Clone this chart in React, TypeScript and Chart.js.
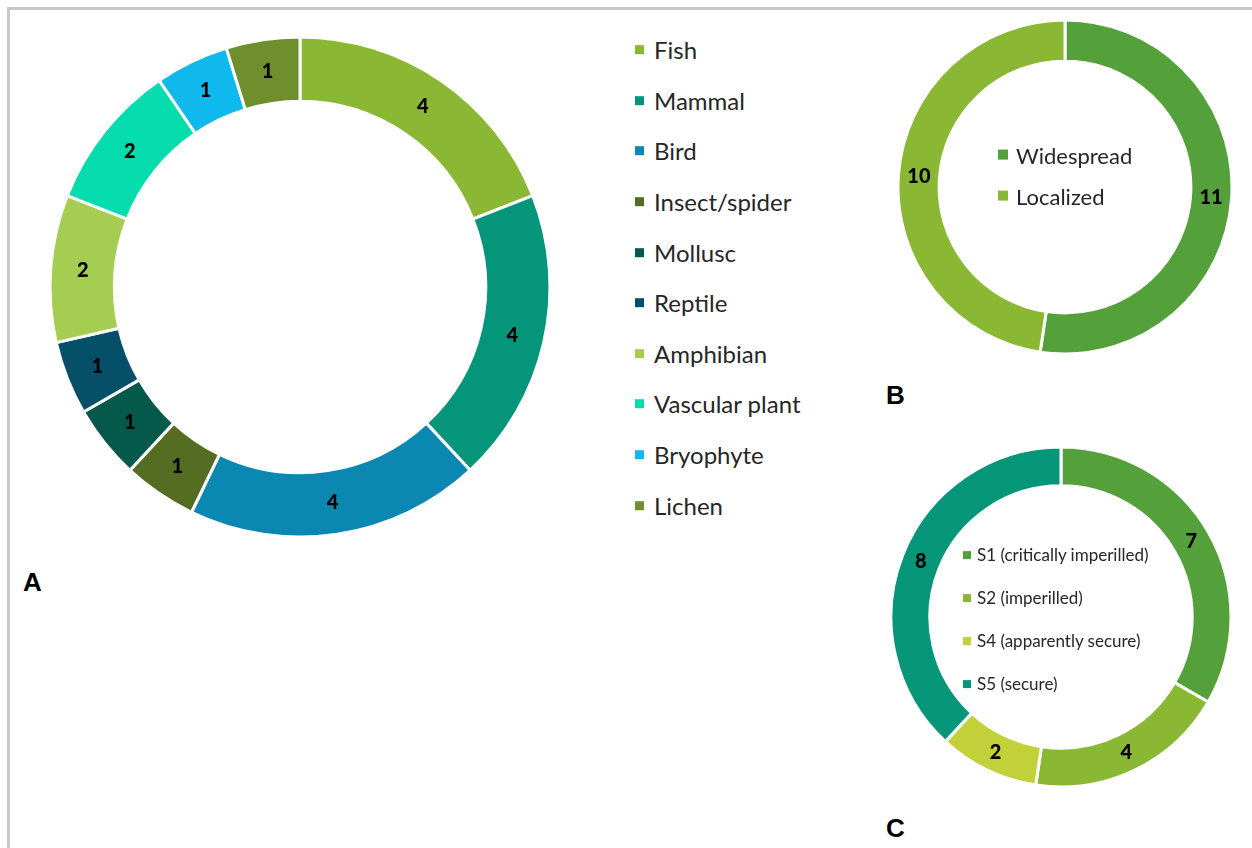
import React, { useEffect, useRef } from "react";
import { Chart, registerables } from "chart.js";

Chart.register(...registerables);

const taxaLabels = ["Fish", "Mammal", "Bird", "Insect/spider", "Mollusc", "Reptile", "Amphibian", "Vascular plant", "Bryophyte", "Lichen"];
const taxaValues = [4, 4, 4, 1, 1, 1, 2, 2, 1, 1];
const taxaColors = ["#8ab734", "#05957a", "#0b88b2", "#546d22", "#04594a", "#064f69", "#a5cd52", "#04dcae", "#0fb9ee", "#6e8f2c"];

const rangeLabels = ["Widespread", "Localized"];
const rangeValues = [11, 10];
const rangeColors = ["#54a03a", "#8ab734"];

const rankLabels = ["S1 (critically imperilled)", "S2 (imperilled)", "S4 (apparently secure)", "S5 (secure)"];
const rankValues = [7, 4, 2, 8];
const rankColors = ["#54a03a", "#8ab734", "#c2d13a", "#05967a"];

const FONT = "Lato, 'Open Sans', sans-serif";

const valueLabelPlugin = {
  id: "valueLabels",
  afterDatasetsDraw(chart: any) {
    const opts = chart.options.plugins.valueLabels || {};
    const ctx = chart.ctx;
    const meta = chart.getDatasetMeta(0);
    const data = chart.data.datasets[0].data;
    ctx.save();
    ctx.fillStyle = "#000";
    ctx.font = `900 ${opts.size || 17}px ${FONT}`;
    ctx.textAlign = "center";
    ctx.textBaseline = "middle";
    meta.data.forEach((arc: any, i: number) => {
      const p = arc.tooltipPosition();
      ctx.fillText(String(data[i]), p.x, p.y);
    });
    ctx.restore();
  },
};

function Doughnut(props: { labels: string[]; values: number[]; colors: string[]; left: number; top: number; size: number; radius: number; cutout: number; labelSize: number }) {
  const ref = useRef<HTMLCanvasElement>(null);
  useEffect(() => {
    const chart = new Chart(ref.current as HTMLCanvasElement, {
      type: "doughnut",
      data: {
        labels: props.labels,
        datasets: [
          {
            data: props.values,
            backgroundColor: props.colors,
            borderColor: "#ffffff",
            borderWidth: 3,
          },
        ],
      },
      options: {
        animation: false,
        responsive: false,
        maintainAspectRatio: false,
        radius: props.radius,
        cutout: props.cutout,
        layout: { padding: 0 },
        plugins: {
          legend: { display: false },
          tooltip: { enabled: false },
          valueLabels: { size: props.labelSize },
        } as any,
      } as any,
      plugins: [valueLabelPlugin],
    });
    return () => chart.destroy();
  }, []);
  return (
    <canvas
      ref={ref}
      width={props.size}
      height={props.size}
      style={{ position: "absolute", left: props.left, top: props.top, width: props.size, height: props.size }}
    />
  );
}

function Legend(props: { labels: string[]; colors: string[]; left: number; top: number; gap: number; fontSize: number; box: number; textGap: number }) {
  return (
    <div style={{ position: "absolute", left: props.left, top: props.top }}>
      {props.labels.map((l, i) => (
        <div
          key={l}
          style={{
            position: "absolute",
            left: 0,
            top: i * props.gap,
            display: "flex",
            alignItems: "center",
            whiteSpace: "nowrap",
            height: props.fontSize * 1.4,
            transform: "translateY(-50%)",
          }}
        >
          <span style={{ display: "inline-block", width: props.box, height: props.box, background: props.colors[i], marginRight: props.textGap }} />
          <span style={{ fontFamily: FONT, fontSize: props.fontSize, color: "#262626" }}>{l}</span>
        </div>
      ))}
    </div>
  );
}

const panelLetter = (t: string, left: number, top: number) => (
  <div style={{ position: "absolute", left, top, fontFamily: "'Liberation Sans', Arial, sans-serif", fontWeight: "bold", fontSize: 26, lineHeight: "26px", color: "#000" }}>{t}</div>
);

export default function App() {
  return (
    <div style={{ position: "fixed", left: 0, top: 0, width: 1252, height: 848, background: "#fff", overflow: "hidden" }}>
      <div style={{ position: "absolute", left: 7, top: 7, right: 0, bottom: 0, borderTop: "3px solid #c8c9cb", borderLeft: "3px solid #c8c9cb" }} />
      <Doughnut labels={taxaLabels} values={taxaValues} colors={taxaColors} left={40} top={27} size={520} radius={250} cutout={192} labelSize={20} />
      <Legend labels={taxaLabels} colors={taxaColors} left={635} top={50} gap={50.6} fontSize={24} box={9} textGap={10} />
      <Doughnut labels={rangeLabels} values={rangeValues} colors={rangeColors} left={895} top={17} size={340} radius={167} cutout={127} labelSize={20} />
      <Legend labels={rangeLabels} colors={rangeColors} left={998} top={155} gap={41} fontSize={22} box={10} textGap={8} />
      <Doughnut labels={rankLabels} values={rankValues} colors={rankColors} left={891} top={447} size={340} radius={170} cutout={130} labelSize={20} />
      <Legend labels={rankLabels} colors={rankColors} left={963} top={555} gap={43} fontSize={17} box={8} textGap={6} />
      {panelLetter("A", 23, 569)}
      {panelLetter("B", 886, 382)}
      {panelLetter("C", 886, 815)}
    </div>
  );
}
